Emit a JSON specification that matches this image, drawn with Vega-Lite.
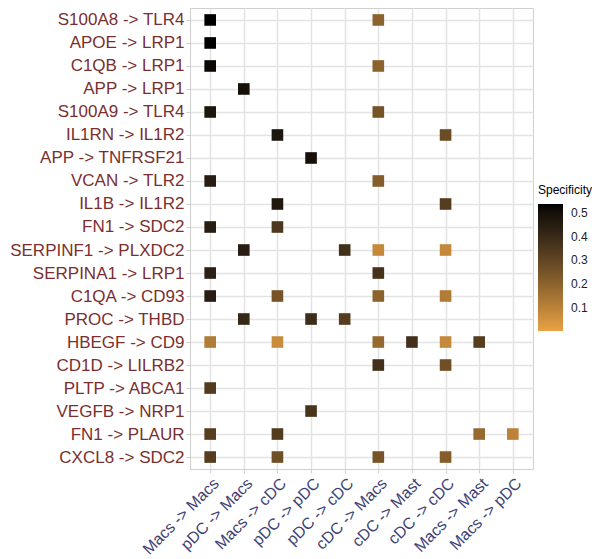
{
  "$schema": "https://vega.github.io/schema/vega-lite/v6.json",
  "autosize": "none",
  "padding": {"left": 190, "top": 8, "right": 59, "bottom": 90},
  "width": 343,
  "height": 461,
  "background": "white",
  "config": {
    "view": {"stroke": "#cfcfcf", "strokeWidth": 1},
    "font": "Liberation Sans"
  },
  "data": {
    "values": [
      {"pair": "S100A8 -> TLR4", "cells": "Macs -> Macs", "spec": 0.54},
      {"pair": "S100A8 -> TLR4", "cells": "cDC -> Macs", "spec": 0.2},
      {"pair": "APOE -> LRP1", "cells": "Macs -> Macs", "spec": 0.54},
      {"pair": "C1QB -> LRP1", "cells": "Macs -> Macs", "spec": 0.52},
      {"pair": "C1QB -> LRP1", "cells": "cDC -> Macs", "spec": 0.2},
      {"pair": "APP -> LRP1", "cells": "pDC -> Macs", "spec": 0.5},
      {"pair": "S100A9 -> TLR4", "cells": "Macs -> Macs", "spec": 0.48},
      {"pair": "S100A9 -> TLR4", "cells": "cDC -> Macs", "spec": 0.25},
      {"pair": "IL1RN -> IL1R2", "cells": "Macs -> cDC", "spec": 0.48},
      {"pair": "IL1RN -> IL1R2", "cells": "cDC -> cDC", "spec": 0.28},
      {"pair": "APP -> TNFRSF21", "cells": "pDC -> pDC", "spec": 0.5},
      {"pair": "VCAN -> TLR2", "cells": "Macs -> Macs", "spec": 0.45},
      {"pair": "VCAN -> TLR2", "cells": "cDC -> Macs", "spec": 0.22},
      {"pair": "IL1B -> IL1R2", "cells": "Macs -> cDC", "spec": 0.47},
      {"pair": "IL1B -> IL1R2", "cells": "cDC -> cDC", "spec": 0.33},
      {"pair": "FN1 -> SDC2", "cells": "Macs -> Macs", "spec": 0.45},
      {"pair": "FN1 -> SDC2", "cells": "Macs -> cDC", "spec": 0.35},
      {"pair": "SERPINF1 -> PLXDC2", "cells": "pDC -> Macs", "spec": 0.45},
      {"pair": "SERPINF1 -> PLXDC2", "cells": "pDC -> cDC", "spec": 0.38},
      {"pair": "SERPINF1 -> PLXDC2", "cells": "cDC -> Macs", "spec": 0.08},
      {"pair": "SERPINF1 -> PLXDC2", "cells": "cDC -> cDC", "spec": 0.08},
      {"pair": "SERPINA1 -> LRP1", "cells": "Macs -> Macs", "spec": 0.44},
      {"pair": "SERPINA1 -> LRP1", "cells": "cDC -> Macs", "spec": 0.37},
      {"pair": "C1QA -> CD93", "cells": "Macs -> Macs", "spec": 0.45},
      {"pair": "C1QA -> CD93", "cells": "Macs -> cDC", "spec": 0.25},
      {"pair": "C1QA -> CD93", "cells": "cDC -> Macs", "spec": 0.2},
      {"pair": "C1QA -> CD93", "cells": "cDC -> cDC", "spec": 0.12},
      {"pair": "PROC -> THBD", "cells": "pDC -> Macs", "spec": 0.41},
      {"pair": "PROC -> THBD", "cells": "pDC -> pDC", "spec": 0.39},
      {"pair": "PROC -> THBD", "cells": "pDC -> cDC", "spec": 0.33},
      {"pair": "HBEGF -> CD9", "cells": "Macs -> Macs", "spec": 0.12},
      {"pair": "HBEGF -> CD9", "cells": "Macs -> cDC", "spec": 0.07},
      {"pair": "HBEGF -> CD9", "cells": "cDC -> Macs", "spec": 0.18},
      {"pair": "HBEGF -> CD9", "cells": "cDC -> Mast", "spec": 0.38},
      {"pair": "HBEGF -> CD9", "cells": "cDC -> cDC", "spec": 0.08},
      {"pair": "HBEGF -> CD9", "cells": "Macs -> Mast", "spec": 0.33},
      {"pair": "CD1D -> LILRB2", "cells": "cDC -> Macs", "spec": 0.38},
      {"pair": "CD1D -> LILRB2", "cells": "cDC -> cDC", "spec": 0.27},
      {"pair": "PLTP -> ABCA1", "cells": "Macs -> Macs", "spec": 0.34},
      {"pair": "VEGFB -> NRP1", "cells": "pDC -> pDC", "spec": 0.36},
      {"pair": "FN1 -> PLAUR", "cells": "Macs -> Macs", "spec": 0.33},
      {"pair": "FN1 -> PLAUR", "cells": "Macs -> cDC", "spec": 0.34},
      {"pair": "FN1 -> PLAUR", "cells": "Macs -> Mast", "spec": 0.18},
      {"pair": "FN1 -> PLAUR", "cells": "Macs -> pDC", "spec": 0.1},
      {"pair": "CXCL8 -> SDC2", "cells": "Macs -> Macs", "spec": 0.33},
      {"pair": "CXCL8 -> SDC2", "cells": "Macs -> cDC", "spec": 0.27},
      {"pair": "CXCL8 -> SDC2", "cells": "cDC -> Macs", "spec": 0.25},
      {"pair": "CXCL8 -> SDC2", "cells": "cDC -> cDC", "spec": 0.22}
    ]
  },
  "mark": {"type": "square", "size": 135, "opacity": 1},
  "encoding": {
    "x": {
      "field": "cells", "type": "nominal",
      "scale": {"type": "point", "padding": 0.6,
        "domain": ["Macs -> Macs", "pDC -> Macs", "Macs -> cDC", "pDC -> pDC", "pDC -> cDC", "cDC -> Macs", "cDC -> Mast", "cDC -> cDC", "Macs -> Mast", "Macs -> pDC"]},
      "axis": {
        "title": null, "labelAngle": -45, "labelAlign": "right", "labelBaseline": "top",
        "labelFontSize": 16, "labelColor": "#3d4275", "labelPadding": 2,
        "grid": true, "gridColor": "#e3e3e3", "gridWidth": 1.5,
        "domainColor": "#cfcfcf", "tickColor": "#cfcfcf", "tickSize": 4
      }
    },
    "y": {
      "field": "pair", "type": "nominal",
      "scale": {"type": "point", "padding": 0.52,
        "domain": ["S100A8 -> TLR4", "APOE -> LRP1", "C1QB -> LRP1", "APP -> LRP1", "S100A9 -> TLR4", "IL1RN -> IL1R2", "APP -> TNFRSF21", "VCAN -> TLR2", "IL1B -> IL1R2", "FN1 -> SDC2", "SERPINF1 -> PLXDC2", "SERPINA1 -> LRP1", "C1QA -> CD93", "PROC -> THBD", "HBEGF -> CD9", "CD1D -> LILRB2", "PLTP -> ABCA1", "VEGFB -> NRP1", "FN1 -> PLAUR", "CXCL8 -> SDC2"]},
      "axis": {
        "title": null, "labelFontSize": 17, "labelColor": "#7a2f2f", "labelPadding": 2,
        "grid": true, "gridColor": "#e3e3e3", "gridWidth": 1.5,
        "domainColor": "#cfcfcf", "tickColor": "#cfcfcf", "tickSize": 4
      }
    },
    "color": {
      "field": "spec", "type": "quantitative", "title": "Specificity",
      "scale": {"domain": [0.003, 0.538], "range": ["#e9a243", "#000000"], "interpolate": "lab"},
      "legend": {
        "orient": "none", "legendX": 348, "legendY": 177,
        "values": [0.1, 0.2, 0.3, 0.4, 0.5],
        "gradientLength": 127, "gradientThickness": 25,
        "titleFontSize": 12, "titleFontWeight": "normal", "titleColor": "#000000",
        "labelFontSize": 12, "labelColor": "#222222", "titlePadding": 7, "labelOffset": 8,
        "gradientStrokeWidth": 0
      }
    }
  }
}
